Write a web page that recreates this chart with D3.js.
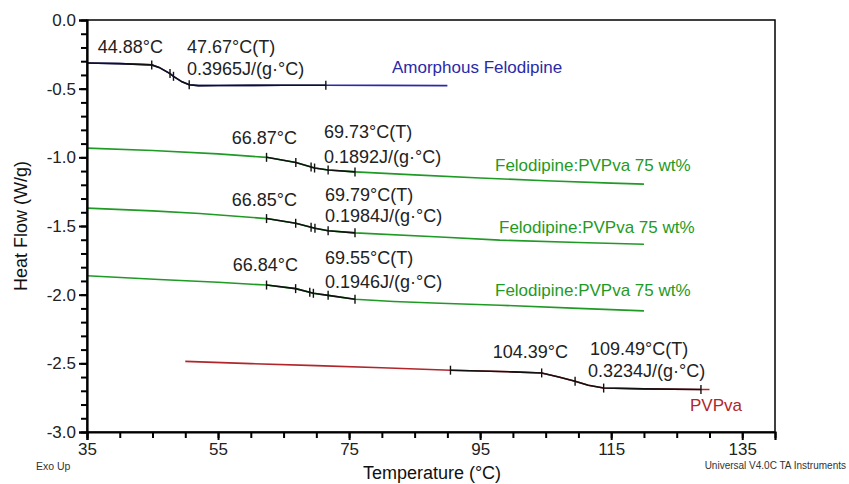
<!DOCTYPE html>
<html>
<head>
<meta charset="utf-8">
<style>
body { margin: 0; background: #fff; }
svg text { font-family: "Liberation Sans", Arial, sans-serif; }
</style>
</head>
<body>
<svg width="849" height="484"></svg>
<script src="https://d3js.org/d3.v7.min.js"></script>
<script>

// ---- data ----
var amorphT  = [35, 40, 44.88, 46, 47.67, 48.2, 49.5, 50.6, 52, 55, 60, 65, 71.45, 80, 90];
var amorphHF = [-0.313, -0.318, -0.327, -0.345, -0.39, -0.41, -0.45, -0.472, -0.478, -0.477, -0.476, -0.475, -0.475, -0.476, -0.478];

var mix1T  = [35, 45, 55, 62.4, 66.87, 69.73, 71.8, 75.9, 85, 95, 105, 115, 120];
var mix1HF = [-0.933, -0.95, -0.975, -1.0, -1.037, -1.078, -1.092, -1.106, -1.128, -1.15, -1.17, -1.188, -1.195];

var mix2T  = [35, 45, 52.2, 62.4, 66.85, 69.79, 71.8, 75.9, 88.9, 98, 110, 120];
var mix2HF = [-1.37, -1.39, -1.409, -1.446, -1.48, -1.517, -1.535, -1.55, -1.58, -1.603, -1.62, -1.633];

var mix3T  = [35, 46, 55, 62.4, 66.84, 69.55, 71.8, 75.9, 81.8, 88.9, 98, 110, 120];
var mix3HF = [-1.862, -1.89, -1.91, -1.93, -1.956, -1.99, -2.005, -2.033, -2.05, -2.063, -2.077, -2.1, -2.118];

var pvpT  = [50, 60, 70, 80, 90.47, 100, 104.39, 107, 109.49, 111.5, 113.85, 120, 128.7, 130];
var pvpHF = [-2.486, -2.502, -2.517, -2.532, -2.55, -2.562, -2.57, -2.6, -2.631, -2.66, -2.68, -2.686, -2.69, -2.69];

// analysis limits and marker temperatures (Tg onset / midpoint / end)
var amorphLimits = [35, 71.45],  amorphMarks = [44.88, 47.67, 48.2, 50.6, 71.45];
var mix1Limits = [62.4, 75.9],   mix1Marks = [62.4, 66.87, 69.2, 69.73, 71.8, 75.9];
var mix2Limits = [62.4, 75.9],   mix2Marks = [62.4, 66.85, 69.2, 69.79, 71.8, 75.9];
var mix3Limits = [62.4, 75.9],   mix3Marks = [62.4, 66.84, 69.0, 69.55, 71.8, 75.9];
var pvpLimits = [90.47, 128.7],  pvpMarks = [90.47, 104.39, 109.49, 113.85, 128.7];

var xTicks = [35, 55, 75, 95, 115, 135];
var yTicks = [0, -0.5, -1.0, -1.5, -2.0, -2.5, -3.0];

var seriesNames = ["Amorphous Felodipine", "Felodipine:PVPva 75 wt%", "Felodipine:PVPva 75 wt%", "Felodipine:PVPva 75 wt%", "PVPva"];
var onsetLabels = ["44.88°C", "66.87°C", "66.85°C", "66.84°C", "104.39°C"];
var midLabels   = ["47.67°C(T)", "69.73°C(T)", "69.79°C(T)", "69.55°C(T)", "109.49°C(T)"];
var cpLabels    = ["0.3965J/(g·°C)", "0.1892J/(g·°C)", "0.1984J/(g·°C)", "0.1946J/(g·°C)", "0.3234J/(g·°C)"];

// ---- layout ----
var svg = d3.select("svg");
var plotL = 87, plotR = 775, plotT = 20, plotB = 432;

var x = d3.scaleLinear().domain([35, 140]).range([plotL, plotR]);
var y = d3.scaleLinear().domain([-3, 0]).range([plotB, plotT]);

var blue = "#2a2aa8", green = "#1f9a24", red = "#b0262a";

var series = [
  {T: amorphT, HF: amorphHF, lim: amorphLimits, marks: amorphMarks, color: blue},
  {T: mix1T, HF: mix1HF, lim: mix1Limits, marks: mix1Marks, color: green},
  {T: mix2T, HF: mix2HF, lim: mix2Limits, marks: mix2Marks, color: green},
  {T: mix3T, HF: mix3HF, lim: mix3Limits, marks: mix3Marks, color: green},
  {T: pvpT, HF: pvpHF, lim: pvpLimits, marks: pvpMarks, color: red}
];

// label placement (pixels): name, onset, midpoint, cp
var namePos  = [[392, 73], [495, 171], [499, 233], [495, 296], [690, 411]];
var onsetPos = [[163, 53], [297, 144], [297, 206], [298, 271], [568, 358]];
var midPos   = [[187, 53], [324, 138], [325, 201], [325, 264], [590, 355]];
var cpPos    = [[187, 75], [324, 163], [325, 222], [325, 288], [588, 377]];

var line = d3.line()
    .x(function(d) { return x(d[0]); })
    .y(function(d) { return y(d[1]); });

function hfAt(s, t) {
  var i = d3.bisectLeft(s.T, t);
  if (i <= 0) return s.HF[0];
  if (i >= s.T.length) return s.HF[s.T.length - 1];
  var t0 = s.T[i - 1], t1 = s.T[i];
  return s.HF[i - 1] + (s.HF[i] - s.HF[i - 1]) * (t - t0) / (t1 - t0);
}

// frame
svg.append("rect")
    .attr("x", plotL).attr("y", plotT)
    .attr("width", plotR - plotL).attr("height", plotB - plotT)
    .attr("fill", "none").attr("stroke", "#000").attr("stroke-width", 1.5);

// curves
series.forEach(function(s) {
  var pts = s.T.map(function(t, i) { return [t, s.HF[i]]; });
  svg.append("path")
      .datum(pts)
      .attr("fill", "none")
      .attr("stroke", s.color)
      .attr("stroke-width", 1.6)
      .attr("d", line);

  var seg = pts.filter(function(p) { return p[0] >= s.lim[0] && p[0] <= s.lim[1]; });
  svg.append("path")
      .datum(seg)
      .attr("fill", "none")
      .attr("stroke", "#111")
      .attr("stroke-width", 1.6)
      .attr("d", line);

  svg.append("g").selectAll("line")
    .data(s.marks)
    .enter().append("line")
      .attr("x1", function(t) { return x(t); })
      .attr("x2", function(t) { return x(t); })
      .attr("y1", function(t) { return y(hfAt(s, t)) - 4.5; })
      .attr("y2", function(t) { return y(hfAt(s, t)) + 4.5; })
      .attr("stroke", "#111")
      .attr("stroke-width", 1.4);
});

// annotations
var fs = "18px";
series.forEach(function(s, i) {
  svg.append("text")
      .attr("x", namePos[i][0]).attr("y", namePos[i][1])
      .attr("fill", s.color).style("font-size", "17px")
      .text(seriesNames[i]);
  svg.append("text")
      .attr("x", onsetPos[i][0]).attr("y", onsetPos[i][1])
      .attr("text-anchor", "end")
      .attr("fill", "#222").style("font-size", fs)
      .text(onsetLabels[i]);
  svg.append("text")
      .attr("x", midPos[i][0]).attr("y", midPos[i][1])
      .attr("fill", "#222").style("font-size", fs)
      .text(midLabels[i]);
  svg.append("text")
      .attr("x", cpPos[i][0]).attr("y", cpPos[i][1])
      .attr("fill", "#222").style("font-size", fs)
      .text(cpLabels[i]);
});

// minor ticks
svg.append("g")
    .attr("transform", "translate(0," + plotB + ")")
    .call(d3.axisBottom(x).tickValues(d3.range(35, 141, 5)).tickSize(6).tickFormat(""))
    .call(function(g) { g.select(".domain").remove(); })
    .selectAll(".tick line").attr("stroke", "#000").attr("stroke-width", 2);

svg.append("g")
    .attr("transform", "translate(" + plotL + ",0)")
    .call(d3.axisLeft(y).tickValues(d3.range(0, 31).map(function(i) { return -i / 10; })).tickSize(6).tickFormat(""))
    .call(function(g) { g.select(".domain").remove(); })
    .selectAll(".tick line").attr("stroke", "#000").attr("stroke-width", 2);

// major axes
var xAxis = svg.append("g")
    .attr("transform", "translate(0," + plotB + ")")
    .call(d3.axisBottom(x).tickValues(xTicks).tickSize(8).tickPadding(3).tickFormat(d3.format("d")));

var yAxis = svg.append("g")
    .attr("transform", "translate(" + plotL + ",0)")
    .call(d3.axisLeft(y).tickValues(yTicks).tickSize(8).tickPadding(3)
      .tickFormat(function(d) { return d.toFixed(1).replace("\u2212", "-"); }));

[xAxis, yAxis].forEach(function(a) {
  a.select(".domain").attr("stroke-width", 2.2).attr("stroke", "#000");
  a.selectAll(".tick line").attr("stroke-width", 2);
  a.selectAll(".tick text").style("font-size", "17px").attr("fill", "#222")
      .style("font-family", "'Liberation Sans', Arial, sans-serif");
});
xAxis.selectAll(".tick text").attr("dy", "0.72em");

svg.append("text")
    .attr("x", 432).attr("y", 479)
    .attr("text-anchor", "middle")
    .style("font-size", "18px").attr("fill", "#111")
    .text("Temperature (°C)");

svg.append("text")
    .attr("transform", "translate(27,226) rotate(-90)")
    .attr("text-anchor", "middle")
    .style("font-size", "18px").attr("fill", "#111")
    .text("Heat Flow (W/g)");

svg.append("text")
    .attr("x", 36).attr("y", 470)
    .style("font-size", "10.5px").attr("fill", "#333")
    .text("Exo Up");

svg.append("text")
    .attr("x", 846).attr("y", 469)
    .attr("text-anchor", "end")
    .style("font-size", "10px").attr("fill", "#333")
    .text("Universal V4.0C TA Instruments");

</script>
</body>
</html>
